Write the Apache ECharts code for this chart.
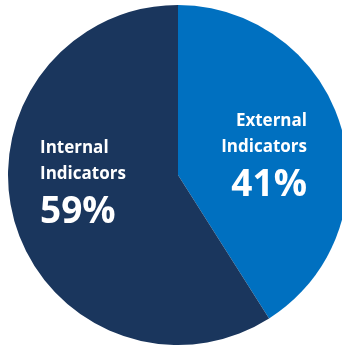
<!DOCTYPE html>
<html><head><meta charset="utf-8">
<script src="https://cdn.jsdelivr.net/npm/echarts@6/dist/echarts.min.js"></script>
<style>html,body{margin:0;padding:0;background:#fff}#c{width:342px;height:346px}</style>
</head><body><div id="c"></div>
<script>
const names = ['External\nIndicators', 'Internal\nIndicators'];
const values = [41, 59];
const colors = ['#0070C0', '#1A365D'];
const labelPos = [
  {x: 307, y: 108, align: 'right'},
  {x: 40, y: 135, align: 'left'}
];
const chart = echarts.init(document.getElementById('c'));
chart.setOption({
  animation: false,
  series: [{
    type: 'pie',
    center: [178, 175],
    radius: [0, 170],
    startAngle: 90,
    clockwise: true,
    silent: true,
    data: names.map((n, i) => ({name: n, value: values[i], itemStyle: {color: colors[i]}})),
    label: {
      show: true,
      position: 'inside',
      formatter: p => p.name.split('\n').map(s => '{n|' + s + '}').join('\n') + '\n{p|' + p.value + '%}',
      rich: {
        n: {fontFamily: 'Open Sans', fontWeight: 'bold', fontSize: 17, lineHeight: 26, color: '#fff'},
        p: {fontFamily: 'Open Sans', fontWeight: 'bold', fontSize: 37, lineHeight: 50, color: '#fff'}
      }
    },
    labelLayout: p => {
      const l = labelPos[p.dataIndex];
      return {x: l.x, y: l.y, align: l.align, verticalAlign: 'top'};
    },
    labelLine: {show: false}
  }]
});
</script></body></html>
